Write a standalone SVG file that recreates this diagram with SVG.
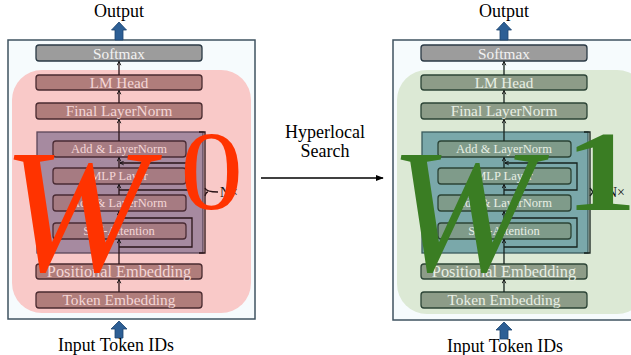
<svg xmlns="http://www.w3.org/2000/svg" width="631" height="355" viewBox="0 0 631 355">
<defs>
<style>
.lbl{text-anchor:middle}
.frame{fill:#f6fbfd;stroke:#3f5360;stroke-width:1.5}
.soft{fill:#9c9c9c;stroke:#2b3a45;stroke-width:1.3}
.softt{fill:#f2f2f2}
.L .box{fill:#b07d7b;stroke:#4a2b30;stroke-width:1.3}
.L .blk{fill:#a68aa0;stroke:#5a4658;stroke-width:1.3}
.L .ibox{fill:#a67b82;stroke:#4a2b34;stroke-width:1.3}
.L .t{fill:#f4d6d6}
.L .ln{stroke:#2a1418;stroke-width:1.3;fill:none}
.R .box{fill:#8d9c88;stroke:#2c4436;stroke-width:1.3}
.R .blk{fill:#7aa8aa;stroke:#3a5a5c;stroke-width:1.3}
.R .ibox{fill:#7f9b8a;stroke:#2c4436;stroke-width:1.3}
.R .t{fill:#e8efe4}
.R .ln{stroke:#16221e;stroke-width:1.3;fill:none}
.blue{fill:#2d5f95;stroke:#1d4470;stroke-width:0.8}
</style>
<marker id="chev" viewBox="0 0 8 8" refX="7" refY="4" markerWidth="5" markerHeight="5" orient="auto" markerUnits="userSpaceOnUse">
<path d="M1,1 L7,4 L1,7" fill="none" stroke="#111" stroke-width="1.4"/>
</marker>
<marker id="tri" viewBox="0 0 10 10" refX="9" refY="5" markerWidth="8" markerHeight="8" orient="auto" markerUnits="userSpaceOnUse">
<path d="M0,1 L10,5 L0,9 z" fill="#000"/>
</marker>
</defs>
<rect width="631" height="355" fill="#ffffff"/>

<!-- LEFT PANEL -->
<g class="L" id="panel-left">
<rect class="frame" x="8" y="40" width="247" height="279"/>
<rect x="12" y="70" width="239" height="243" rx="30" fill="#f9c9c8"/>
<g id="L-softmax"><rect class="soft" x="36" y="45" width="166" height="16" rx="3"/><text class="lbl softt" font-family="Liberation Serif" x="119" y="58.5" font-size="15.3">Softmax</text></g>
<g id="L-lmhead"><rect class="box" x="36" y="75" width="166" height="15" rx="3"/><text class="lbl t" font-family="Liberation Serif" x="119" y="87.7" font-size="15.2">LM Head</text></g>
<g id="L-finalln"><rect class="box" x="36" y="103" width="166" height="16" rx="3"/><text class="lbl t" font-family="Liberation Serif" x="119" y="116.3" font-size="15.3">Final LayerNorm</text></g>
<g id="L-block"><rect class="blk" x="37" y="132" width="166" height="121"/></g>
<g id="L-addln1"><rect class="ibox" x="53" y="141" width="133" height="16" rx="3"/><text class="lbl t" font-family="Liberation Serif" x="119" y="153.3" font-size="12.5">Add &amp; LayerNorm</text></g>
<g id="L-mlp"><rect class="ibox" x="53" y="168" width="133" height="16" rx="3"/><text class="lbl t" font-family="Liberation Serif" x="119" y="180.3" font-size="12.5">MLP Layer</text></g>
<g id="L-addln2"><rect class="ibox" x="53" y="195" width="133" height="16" rx="3"/><text class="lbl t" font-family="Liberation Serif" x="119" y="207.3" font-size="12.5">Add &amp; LayerNorm</text></g>
<g id="L-attn"><rect class="ibox" x="53" y="223" width="133" height="16" rx="3"/><text class="lbl t" font-family="Liberation Serif" x="119" y="235.3" font-size="12.5">Self-Attention</text></g>
<g id="L-pos"><rect class="box" x="36" y="264" width="166" height="15" rx="3"/><text class="lbl t" font-family="Liberation Serif" x="119" y="277" font-size="16.3">Positional Embedding</text></g>
<g id="L-tok"><rect class="box" x="36" y="292" width="166" height="16" rx="3"/><text class="lbl t" font-family="Liberation Serif" x="119" y="305.2" font-size="15.4">Token Embedding</text></g>
<g id="L-connectors" class="ln" marker-end="url(#chev)">
<line x1="119" y1="292" x2="119" y2="279.5"/>
<line x1="119" y1="264" x2="119" y2="239.5"/>
<line x1="119" y1="223" x2="119" y2="211.5"/>
<line x1="119" y1="195" x2="119" y2="184.5"/>
<line x1="119" y1="168" x2="119" y2="157.5"/>
<line x1="119" y1="141" x2="119" y2="119.5"/>
<line x1="119" y1="103" x2="119" y2="90.5"/>
<line x1="119" y1="75" x2="119" y2="61.5"/>
<polyline points="119,247 192,247 192,218 120,218"/>
<polyline points="119,190 192,190 192,163 120,163"/>
</g>
<g id="L-brace" class="ln">
<path d="M199,132 L205,132 L205,253 L199,253"/>
<path d="M205,188 Q206,192 218,192 M205,196 Q206,192 208,192"/>
<text font-family="Liberation Serif" x="220" y="196.5" font-size="14" fill="#111" stroke="none">N×</text>
</g>
<g id="L-output"><path class="blue" d="M119,22 L126.5,30 L123,30 L123,40 L115,40 L115,30 L111.5,30 Z"/><text class="lbl" font-family="Liberation Serif" x="119" y="16.8" font-size="18" fill="#000">Output</text></g>
<g id="L-input"><path class="blue" d="M119,321 L127,329 L123,329 L123,338 L115,338 L115,329 L111,329 Z"/><text class="lbl" font-family="Liberation Serif" x="116" y="351" font-size="17.8" fill="#000">Input Token IDs</text></g>
<text font-family="Liberation Serif" x="2" y="270" font-size="176" font-style="italic" fill="#ff3300">W</text>
<text font-family="Liberation Serif" transform="translate(180,209.4) scale(1.12,1)" font-size="113" fill="#ff3300">0</text>
</g>

<!-- MIDDLE -->
<g id="search">
<text class="lbl" font-family="Liberation Serif" x="325" y="137.5" font-size="18" fill="#000">Hyperlocal</text>
<text class="lbl" font-family="Liberation Serif" x="325" y="157.3" font-size="18" fill="#000">Search</text>
</g>
<g id="search-arrow"><line x1="261" y1="178" x2="383" y2="178" stroke="#000" stroke-width="1.5" marker-end="url(#tri)"/></g>

<!-- RIGHT PANEL -->
<g class="R" id="panel-right" transform="translate(385,0)">
<rect class="frame" x="8" y="40" width="260" height="280"/>
<rect x="12" y="70" width="250" height="244" rx="30" fill="#dce9d5"/>
<g id="R-softmax"><rect class="soft" x="36" y="45" width="166" height="16" rx="3"/><text class="lbl softt" font-family="Liberation Serif" x="119" y="58.5" font-size="15.3">Softmax</text></g>
<g id="R-lmhead"><rect class="box" x="36" y="75" width="166" height="15" rx="3"/><text class="lbl t" font-family="Liberation Serif" x="119" y="87.7" font-size="15.2">LM Head</text></g>
<g id="R-finalln"><rect class="box" x="36" y="103" width="166" height="16" rx="3"/><text class="lbl t" font-family="Liberation Serif" x="119" y="116.3" font-size="15.3">Final LayerNorm</text></g>
<g id="R-block"><rect class="blk" x="37" y="132" width="166" height="121"/></g>
<g id="R-addln1"><rect class="ibox" x="53" y="141" width="133" height="16" rx="3"/><text class="lbl t" font-family="Liberation Serif" x="119" y="153.3" font-size="12.5">Add &amp; LayerNorm</text></g>
<g id="R-mlp"><rect class="ibox" x="53" y="168" width="133" height="16" rx="3"/><text class="lbl t" font-family="Liberation Serif" x="119" y="180.3" font-size="12.5">MLP Layer</text></g>
<g id="R-addln2"><rect class="ibox" x="53" y="195" width="133" height="16" rx="3"/><text class="lbl t" font-family="Liberation Serif" x="119" y="207.3" font-size="12.5">Add &amp; LayerNorm</text></g>
<g id="R-attn"><rect class="ibox" x="53" y="223" width="133" height="16" rx="3"/><text class="lbl t" font-family="Liberation Serif" x="119" y="235.3" font-size="12.5">Self-Attention</text></g>
<g id="R-pos"><rect class="box" x="36" y="264" width="166" height="15" rx="3"/><text class="lbl t" font-family="Liberation Serif" x="119" y="277" font-size="16.3">Positional Embedding</text></g>
<g id="R-tok"><rect class="box" x="36" y="292" width="166" height="16" rx="3"/><text class="lbl t" font-family="Liberation Serif" x="119" y="305.2" font-size="15.4">Token Embedding</text></g>
<g id="R-connectors" class="ln" marker-end="url(#chev)">
<line x1="119" y1="292" x2="119" y2="279.5"/>
<line x1="119" y1="264" x2="119" y2="239.5"/>
<line x1="119" y1="223" x2="119" y2="211.5"/>
<line x1="119" y1="195" x2="119" y2="184.5"/>
<line x1="119" y1="168" x2="119" y2="157.5"/>
<line x1="119" y1="141" x2="119" y2="119.5"/>
<line x1="119" y1="103" x2="119" y2="90.5"/>
<line x1="119" y1="75" x2="119" y2="61.5"/>
<polyline points="119,247 192,247 192,218 120,218"/>
<polyline points="119,190 192,190 192,163 120,163"/>
</g>
<g id="R-brace" class="ln">
<path d="M199,132 L205,132 L205,253 L199,253"/>
<path d="M205,188 L208,192 L205,196"/>
<text font-family="Liberation Serif" x="222" y="197" font-size="14" fill="#111" stroke="none">N×</text>
</g>
<g id="R-output"><path class="blue" d="M119,22 L126.5,30 L123,30 L123,40 L115,40 L115,30 L111.5,30 Z"/><text class="lbl" font-family="Liberation Serif" x="119" y="16.8" font-size="18" fill="#000">Output</text></g>
<g id="R-input"><path class="blue" d="M119,322 L127,330 L123,330 L123,339 L115,339 L115,330 L111,330 Z"/><text class="lbl" font-family="Liberation Serif" x="120" y="352" font-size="17.8" fill="#000">Input Token IDs</text></g>
<text font-family="Liberation Serif" x="4" y="270" font-size="176" font-style="italic" fill="#3a7d23">W</text>
<text font-family="Liberation Serif" transform="translate(180,210) scale(1.25,1)" font-size="115" font-weight="bold" fill="#3a7d23">1</text>
</g>
</svg>
